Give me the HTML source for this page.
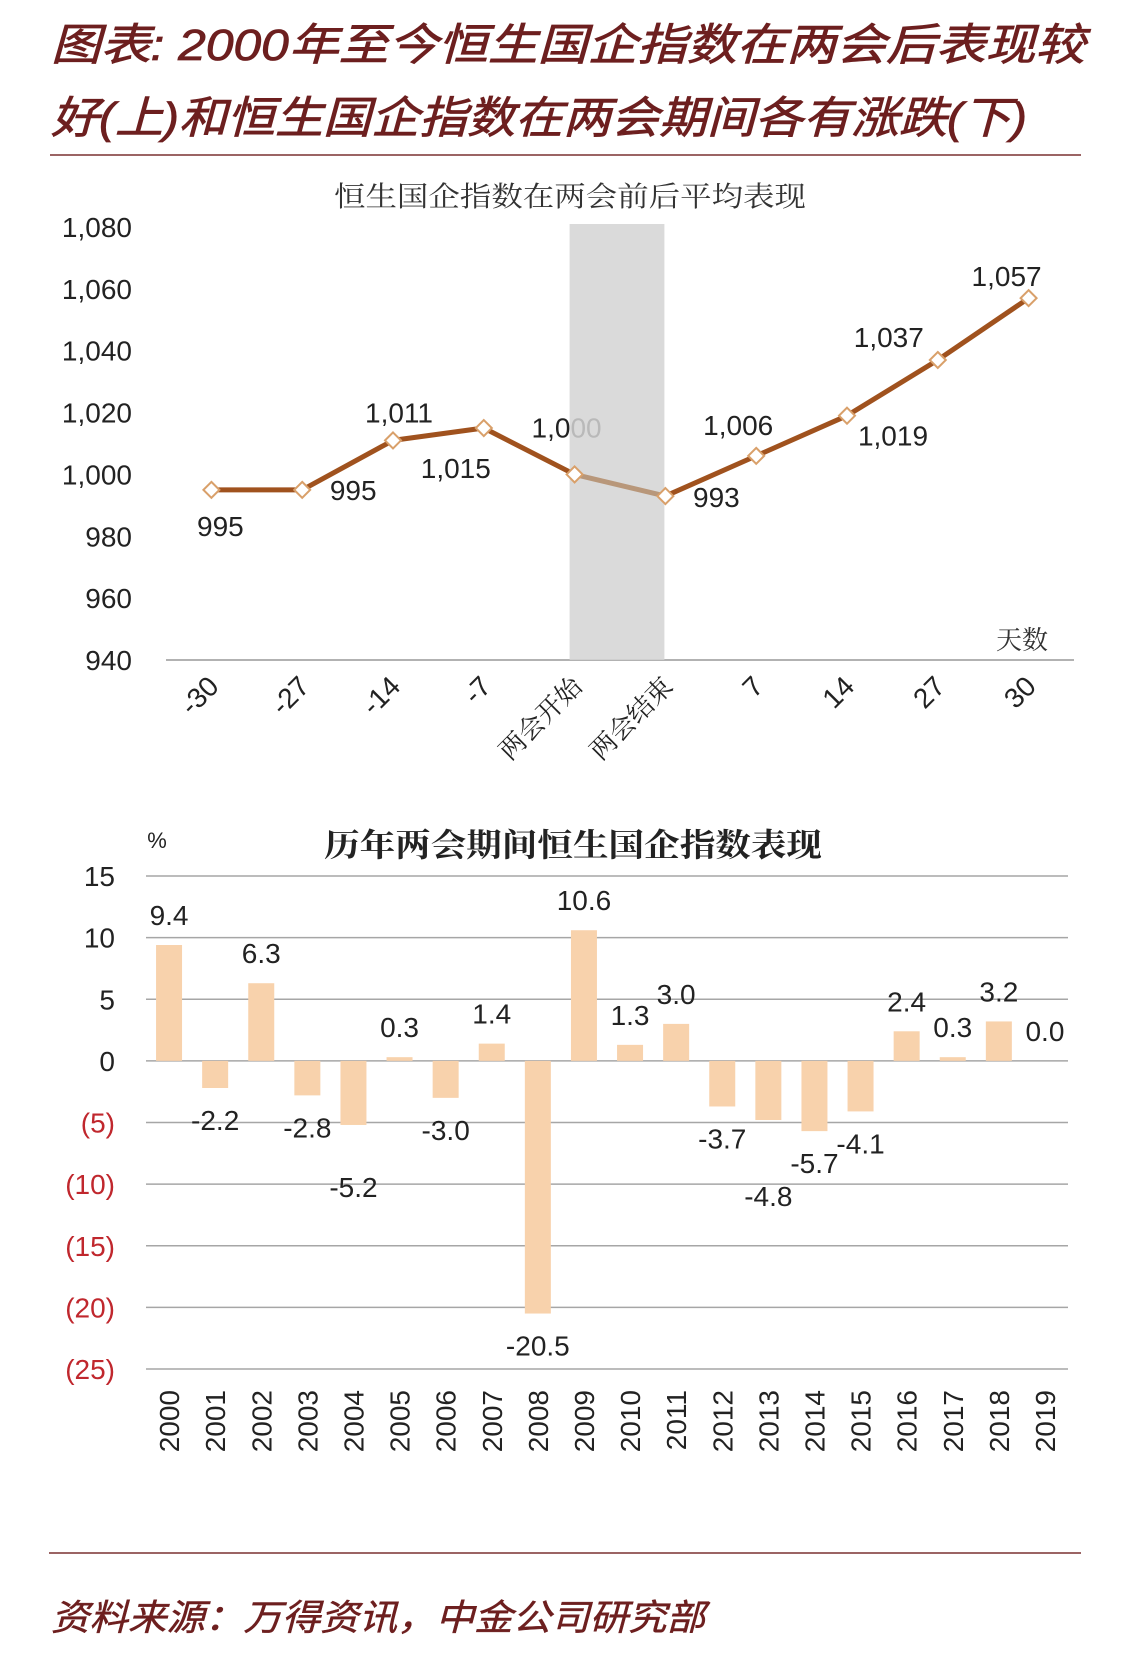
<!DOCTYPE html>
<html><head><meta charset="utf-8"><style>
html,body{margin:0;padding:0;background:#fff;}
svg{display:block;}
.cjk{font-family:"Liberation Sans","Noto Sans CJK SC",sans-serif;}
.num{font-family:"Liberation Sans",sans-serif;}
.serif{font-family:"Liberation Serif","Noto Serif CJK SC",serif;}
</style></head><body>
<svg id="root" width="1125" height="1667" viewBox="0 0 1125 1667" xmlns="http://www.w3.org/2000/svg">
<text class="cjk" x="51" y="60" font-size="44" font-style="italic" fill="#6d1f1f" stroke="#6d1f1f" stroke-width="0.8" textLength="1034" lengthAdjust="spacingAndGlyphs">图表: 2000年至今恒生国企指数在两会后表现较</text>
<text class="cjk" x="51" y="133" font-size="44" font-style="italic" fill="#6d1f1f" stroke="#6d1f1f" stroke-width="0.8" textLength="976" lengthAdjust="spacingAndGlyphs">好(上)和恒生国企指数在两会期间各有涨跌(下)</text>
<line x1="50" y1="155" x2="1081" y2="155" stroke="#7a3030" stroke-width="1.5"/>
<g id="topChart"></g>
<g id="botChart"></g>
<line x1="49" y1="1553" x2="1081" y2="1553" stroke="#7a3030" stroke-width="1.5"/>
<text class="cjk" x="51" y="1630" font-size="36" font-style="italic" fill="#6d1f1f" stroke="#6d1f1f" stroke-width="0.5" textLength="654" lengthAdjust="spacingAndGlyphs">资料来源：万得资讯，中金公司研究部</text>
</svg>
<script>
// ---- top line chart data ----
const lineCategories = ['-30','-27','-14','-7','两会开始','两会结束','7','14','27','30'];
const lineValues = [995,995,1011,1015,1000,993,1006,1019,1037,1057];
const lineYTicks = [940,960,980,1000,1020,1040,1060,1080];
const lineLabelDx = [9,51,6,-28,-8,51,-18,46,-49,-22];
const lineLabelDy = [36,0,-28,40,-47,1,-31,20,-23,-22];
// ---- bottom bar chart data ----
const barYears = ['2000','2001','2002','2003','2004','2005','2006','2007','2008','2009','2010','2011','2012','2013','2014','2015','2016','2017','2018','2019'];
const barValues = [9.4,-2.2,6.3,-2.8,-5.2,0.3,-3.0,1.4,-20.5,10.6,1.3,3.0,-3.7,-4.8,-5.7,-4.1,2.4,0.3,3.2,0.0];
const barYTicks = [15,10,5,0,-5,-10,-15,-20,-25];
const barLabelExtra = [0,0,0,0,30,0,0,0,0,0,0,0,0,44,0,0,0,0,0,0];

const NS='http://www.w3.org/2000/svg';
function mk(parent,tag,attrs,text){const e=document.createElementNS(NS,tag);for(const k in attrs)e.setAttribute(k,attrs[k]);if(text!==undefined)e.textContent=text;parent.appendChild(e);return e;}
const fmt=v=>v.toLocaleString('en-US');

// ===== TOP =====
const topG=document.getElementById('topChart');
const tx0=166,tx1=1074,tyTop=227,tyBot=660,tmin=940,tmax=1080;
const tX=i=>tx0+(tx1-tx0)/lineCategories.length*(i+0.5);
const tY=v=>tyBot-(v-tmin)/(tmax-tmin)*(tyBot-tyTop);
let e;
e=mk(topG,'text',{class:'serif',x:570,y:206,'font-size':28,'text-anchor':'middle',fill:'#333',textLength:472,lengthAdjust:'spacingAndGlyphs'},'恒生国企指数在两会前后平均表现');


lineYTicks.forEach(t=>{
  e=mk(topG,'text',{class:'num',x:132,y:tY(t)+10,'font-size':28,'text-anchor':'end',fill:'#222'},fmt(t));
  
  
});
e=mk(topG,'line',{x1:tx0,y1:tyBot,x2:tx1,y2:tyBot,stroke:'#999','stroke-width':1.5});


e=mk(topG,'text',{class:'serif',x:1022,y:649,'font-size':26,'text-anchor':'middle',fill:'#333'},'天数');


let d='';lineValues.forEach((v,i)=>{if(i<=4)d+=(i?'L':'M')+tX(i)+','+tY(v);});
e=mk(topG,'path',{d:d,fill:'none',stroke:'#a0521e','stroke-width':5,'stroke-linejoin':'round'});


d='';lineValues.forEach((v,i)=>{if(i>=5)d+=(i>5?'L':'M')+tX(i)+','+tY(v);});
e=mk(topG,'path',{d:d,fill:'none',stroke:'#a0521e','stroke-width':5,'stroke-linejoin':'round'});


lineValues.forEach((v,i)=>{
  e=mk(topG,'text',{class:'num',x:tX(i)+lineLabelDx[i],y:tY(v)+lineLabelDy[i]+10,'font-size':28,'text-anchor':'middle',fill:'#222'},fmt(v));
  
  
});
e=mk(topG,'rect',{x:tX(4)-5,y:tyTop-3,width:tX(5)-tX(4)+4,height:tyBot-tyTop+3,fill:'#d4d4d4','fill-opacity':0.85});


e=mk(topG,'line',{x1:tX(4),y1:tY(lineValues[4]),x2:tX(5),y2:tY(lineValues[5]),stroke:'#b8977a','stroke-width':5});


lineValues.forEach((v,i)=>{
  const x=tX(i),y=tY(v),r=8;
  e=mk(topG,'polygon',{points:`${x},${y-r} ${x+r},${y} ${x},${y+r} ${x-r},${y}`,fill:'#fff',stroke:'#d9a06a','stroke-width':2});
  
  
});
lineCategories.forEach((c,i)=>{
  const x=tX(i)+9,y=688;
  e=mk(topG,'text',{class:/\d/.test(c)?'num':'serif',x:x,y:y,'font-size':c.length>3?26:28,'text-anchor':'end',fill:'#222',transform:`rotate(-45 ${x} ${y})`},c);
  
  
});

// ===== BOTTOM =====
const botG=document.getElementById('botChart');
const bx0=146,bx1=1068,bTop=876,bBot=1369,bmax=15,bmin=-25;
const bW=(bx1-bx0)/barYears.length;
const bX=i=>bx0+bW*(i+0.5);
const bY=v=>bTop+(bmax-v)/(bmax-bmin)*(bBot-bTop);
e=mk(botG,'text',{class:'serif',x:573,y:856,'font-size':32,'font-weight':'bold','text-anchor':'middle',fill:'#222',textLength:498,lengthAdjust:'spacingAndGlyphs'},'历年两会期间恒生国企指数表现');


e=mk(botG,'text',{class:'num',x:157,y:848,'font-size':22,'text-anchor':'middle',fill:'#222'},'%');


barYTicks.forEach(t=>{
  e=mk(botG,'line',{x1:bx0,y1:bY(t),x2:bx1,y2:bY(t),stroke:'#a6a6a6','stroke-width':1.5});
  
  
  e=mk(botG,'text',{class:'num',x:115,y:bY(t)+10,'font-size':28,'text-anchor':'end',fill:t<0?'#c0272d':'#222'},t<0?'('+(-t)+')':String(t));
  
  
});
const bw=26;
barValues.forEach((v,i)=>{
  const y0=bY(0),y1=bY(v);
  e=mk(botG,'rect',{x:bX(i)-bw/2,y:Math.min(y0,y1),width:bw,height:Math.max(Math.abs(y1-y0),v===0?0:1),fill:'#f8d2ac'});
  
  
  const ly=v>=0?y1-30:y1+32+barLabelExtra[i];
  e=mk(botG,'text',{class:'num',x:bX(i),y:ly+10,'font-size':28,'text-anchor':'middle',fill:'#222'},v.toFixed(1));
  
  
  const x=bX(i),y=1390;
  e=mk(botG,'text',{class:'num',x:x+10,y:y,'font-size':28,'text-anchor':'end',fill:'#222',transform:`rotate(-90 ${x+10} ${y})`},barYears[i]);
  
  
});
</script>
</body></html>
